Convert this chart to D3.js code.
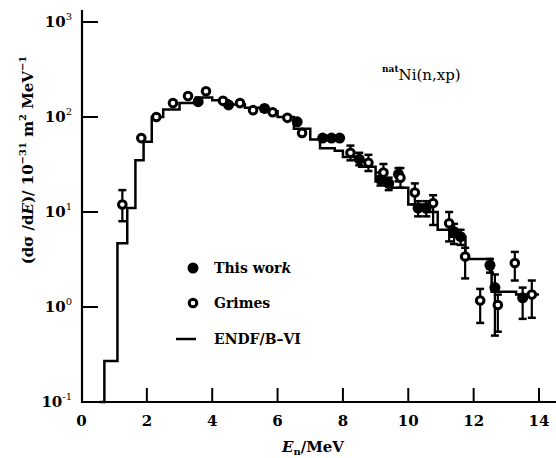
<!DOCTYPE html>
<html>
<head>
<meta charset="utf-8">
<script src="https://cdn.jsdelivr.net/npm/d3@7"></script>
<style>
  body { margin: 0; background: #fff; }
  text { font-family: "DejaVu Serif", "Liberation Serif", serif; fill: #000; }
</style>
</head>
<body>
<svg id="chart" width="556" height="458"></svg>
<script>
// Grimes data (open circles)
var grimesE = [1.25, 1.83, 2.29, 2.8, 3.26, 3.81, 4.33, 4.85, 5.25, 5.85, 6.3, 6.75, 8.23, 8.78, 9.24, 9.76, 10.2, 10.76, 11.25, 11.74, 12.2, 12.74, 13.26, 13.78];
var grimesV = [12, 60, 100, 140, 166, 187, 148, 140, 118, 112, 98, 68, 42, 33, 26, 23, 16, 12.4, 7.6, 3.4, 1.17, 1.05, 2.9, 1.35];
var grimesLo = [8, 60, 100, 140, 166, 187, 148, 140, 118, 112, 98, 68, 35, 27, 21, 18, 12, 7.3, 4.9, 2.0, 0.68, 0.55, 1.9, 0.77];
var grimesHi = [17, 60, 100, 140, 166, 187, 148, 140, 118, 112, 98, 68, 50, 40, 32, 29, 20, 15, 10, 4.2, 1.55, 1.35, 3.8, 1.9];

// This work (filled circles)
var workE = [3.57, 4.5, 5.6, 6.6, 7.38, 7.65, 7.9, 8.5, 9.15, 9.4, 9.7, 10.3, 10.55, 11.4, 11.6, 12.5, 12.65, 13.5];
var workV = [145, 134, 123, 89, 60, 60, 60, 36, 22, 20, 25, 11, 11, 6.2, 5.5, 2.75, 1.6, 1.25];
var workLo = [145, 134, 123, 89, 60, 60, 60, 31, 19, 17, 21, 9, 9, 4.6, 4.5, 2.3, 0.5, 0.75];
var workHi = [145, 134, 123, 89, 60, 60, 60, 42, 26, 23, 29, 13, 13, 7.5, 6.5, 3.2, 2.2, 1.6];

// ENDF/B-VI histogram (left bin edges, values)
var endfE = [0.55, 0.7, 1.1, 1.4, 1.65, 1.9, 2.15, 2.5, 3.0, 3.5, 4.0, 4.5, 5.0, 5.5, 6.0, 6.5, 7.0, 7.3, 7.75, 8.0, 8.5, 9.0, 9.5, 10.0, 10.5, 10.9, 11.3, 11.75, 12.55, 13.3, 14.0];
var endfV = [0.1, 0.27, 4.7, 11, 35, 55, 100, 120, 140, 160, 150, 135, 125, 115, 100, 75, 58, 47, 44, 38, 30, 21, 18, 12, 10, 6.5, 5.5, 3.2, 1.45, 1.35, 1.35];

var xTicks = [0, 2, 4, 6, 8, 10, 12, 14];
var yTicks = [-1, 0, 1, 2, 3];

var svg = d3.select("#chart");

var x = d3.scaleLinear().domain([0, 14]).range([81.5, 539]);
var y = d3.scaleLog().domain([0.1, 1000]).range([402, 22]);

// axes lines
svg.append("line").attr("x1", 82).attr("x2", 82).attr("y1", 10).attr("y2", 403)
  .attr("stroke", "#000").attr("stroke-width", 2.2);
svg.append("line").attr("x1", 81).attr("x2", 556).attr("y1", 402).attr("y2", 402)
  .attr("stroke", "#000").attr("stroke-width", 2.2);

// x ticks (inward)
svg.selectAll(".xt").data(xTicks.slice(1)).enter().append("line")
  .attr("x1", d => x(d)).attr("x2", d => x(d))
  .attr("y1", 402).attr("y2", 388)
  .attr("stroke", "#000").attr("stroke-width", 2);
svg.selectAll(".xl").data(xTicks).enter().append("text")
  .attr("x", d => x(d)).attr("y", 426)
  .attr("text-anchor", "middle")
  .attr("font-size", 15).attr("font-weight", "bold")
  .text(d => d);

// y ticks (inward)
svg.selectAll(".yt").data(yTicks).enter().append("line")
  .attr("x1", 82).attr("x2", 98)
  .attr("y1", d => y(Math.pow(10, d))).attr("y2", d => y(Math.pow(10, d)))
  .attr("stroke", "#000").attr("stroke-width", 2);
var yl = svg.selectAll(".yl").data(yTicks).enter().append("text")
  .attr("x", 72).attr("y", d => y(Math.pow(10, d)) + 5)
  .attr("text-anchor", "end")
  .attr("font-size", 15).attr("font-weight", "bold");
yl.append("tspan").text("10");
yl.append("tspan").attr("dy", -7).attr("font-size", 10).attr("font-weight", "normal").text(d => d);

// ENDF step line
var endfData = endfE.map((e, i) => [e, endfV[i]]);
var line = d3.line().x(d => x(d[0])).y(d => y(d[1])).curve(d3.curveStepAfter);
svg.append("path").datum(endfData)
  .attr("d", line)
  .attr("fill", "none").attr("stroke", "#000").attr("stroke-width", 2.5);

// error bars
function errorBars(E, lo, hi, V) {
  var g = svg.append("g");
  E.forEach(function (e, i) {
    if (lo[i] === V[i] && hi[i] === V[i]) return;
    var cx = x(e);
    g.append("line").attr("x1", cx).attr("x2", cx)
      .attr("y1", y(lo[i])).attr("y2", y(hi[i]))
      .attr("stroke", "#000").attr("stroke-width", 2.2);
    [lo[i], hi[i]].forEach(function (v) {
      g.append("line").attr("x1", cx - 4).attr("x2", cx + 4)
        .attr("y1", y(v)).attr("y2", y(v))
        .attr("stroke", "#000").attr("stroke-width", 2.5);
    });
  });
}
errorBars(workE, workLo, workHi, workV);
errorBars(grimesE, grimesLo, grimesHi, grimesV);

// This work points
svg.append("g").selectAll("circle").data(workE).enter().append("circle")
  .attr("cx", d => x(d)).attr("cy", (d, i) => y(workV[i]))
  .attr("r", 5.5).attr("fill", "#000");

// Grimes points
svg.append("g").selectAll("circle").data(grimesE).enter().append("circle")
  .attr("cx", d => x(d)).attr("cy", (d, i) => y(grimesV[i]))
  .attr("r", 3.8).attr("fill", "#fff").attr("stroke", "#000").attr("stroke-width", 3);

// legend
var lg = svg.append("g").attr("font-size", 14).attr("font-weight", "bold");
lg.append("circle").attr("cx", 193).attr("cy", 268).attr("r", 5.5).attr("fill", "#000");
var t1 = lg.append("text").attr("x", 214).attr("y", 273);
t1.append("tspan").text("This wor");
t1.append("tspan").attr("font-style", "italic").text("k");
lg.append("circle").attr("cx", 193).attr("cy", 303).attr("r", 3.8)
  .attr("fill", "#fff").attr("stroke", "#000").attr("stroke-width", 3);
lg.append("text").attr("x", 214).attr("y", 308).text("Grimes");
lg.append("line").attr("x1", 176).attr("x2", 196).attr("y1", 339).attr("y2", 339)
  .attr("stroke", "#000").attr("stroke-width", 2.5);
lg.append("text").attr("x", 214).attr("y", 344).text("ENDF/B\u2013VI");

// reaction label
var rl = svg.append("text").attr("x", 382).attr("y", 80).attr("font-size", 15);
rl.append("tspan").attr("dy", -8).attr("font-size", 9).attr("font-weight", "bold").text("nat");
rl.append("tspan").attr("dy", 8).text("Ni(n,xp)");

// x axis title
var xt = svg.append("text").attr("x", 313).attr("y", 452).attr("text-anchor", "middle")
  .attr("font-size", 15).attr("font-weight", "bold");
xt.append("tspan").attr("font-style", "italic").text("E");
xt.append("tspan").attr("dy", 3).attr("font-size", 10).text("n");
xt.append("tspan").attr("dy", -3).text("/MeV");

// y axis title
var yt = svg.append("text").attr("transform", "translate(33,160) rotate(-90)")
  .attr("text-anchor", "middle").attr("font-size", 15).attr("font-weight", "bold");
yt.append("tspan").text("(d\u03C3 /d");
yt.append("tspan").attr("font-style", "italic").text("E");
yt.append("tspan").text(")/ 10");
yt.append("tspan").attr("dy", -7).attr("font-size", 10).text("\u221231");
yt.append("tspan").attr("dy", 7).text(" m");
yt.append("tspan").attr("dy", -7).attr("font-size", 10).text("2");
yt.append("tspan").attr("dy", 7).text(" MeV");
yt.append("tspan").attr("dy", -7).attr("font-size", 10).text("\u22121");
</script>
</body>
</html>
